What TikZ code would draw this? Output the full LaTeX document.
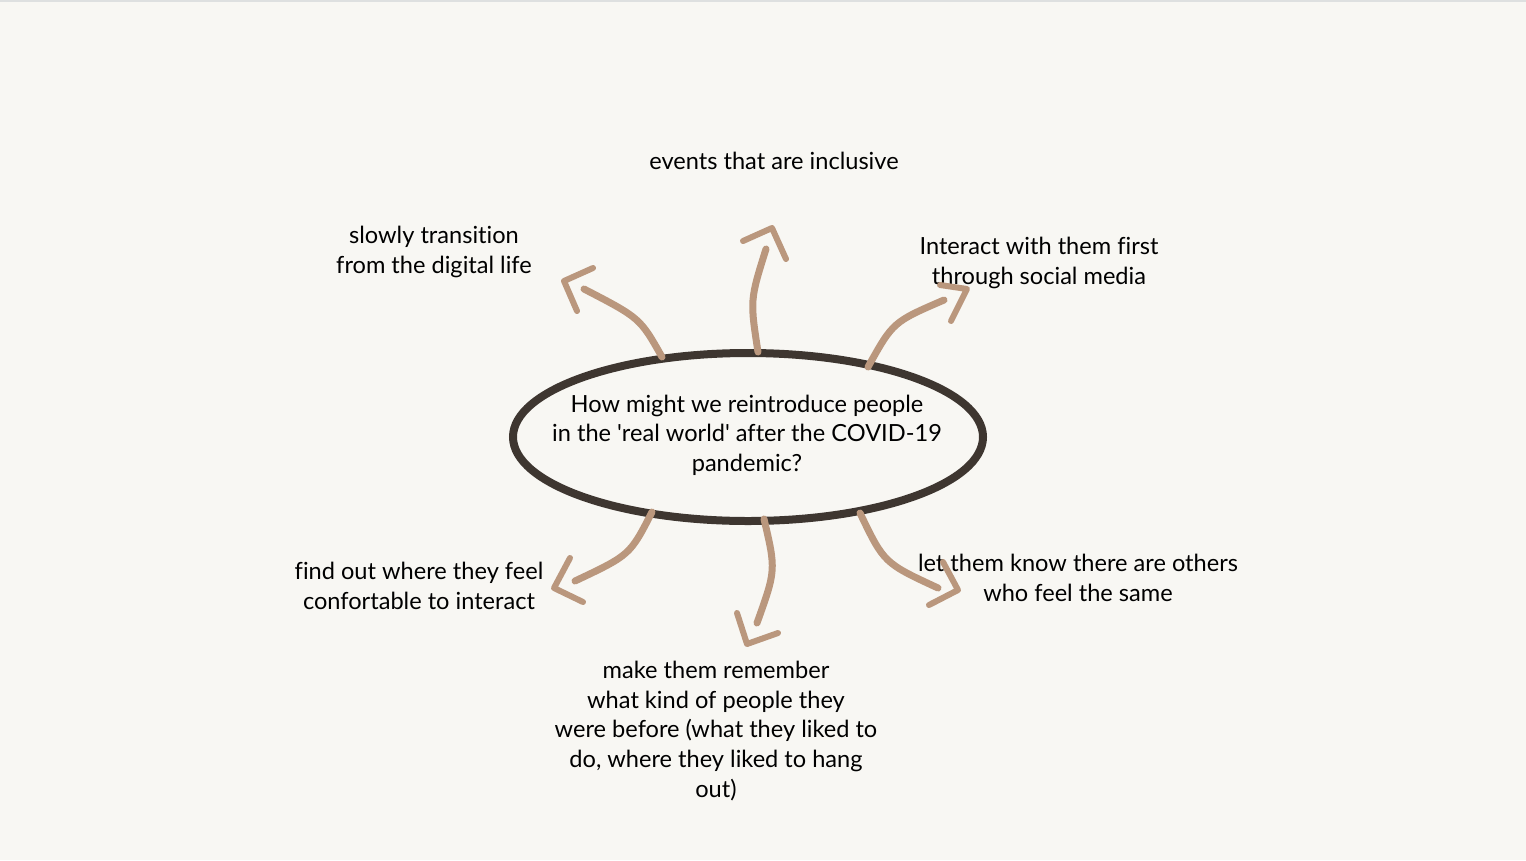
\documentclass[tikz,border=0pt]{standalone}
\usepackage{fontspec}
\newfontfamily\lato{Lato}[Ligatures=NoCommon]
\usetikzlibrary{shapes.geometric}
\definecolor{bg}{RGB}{248,247,243}
\definecolor{topline}{RGB}{222,224,224}
\definecolor{ink}{RGB}{62,54,48}
\definecolor{tan}{RGB}{186,151,125}
\tikzset{
  lbl/.style={align=center, font=\lato\fontsize{23.6}{29.6}\selectfont, text=black, inner sep=0pt},
  shaft/.style={draw=tan, line width=7pt, line cap=round},
  head/.style={draw=tan, line width=6pt, line cap=round, line join=round},
}
\begin{document}
\begin{tikzpicture}[x=1pt,y=-1pt]
\fill[bg] (0,0) rectangle (1526,860);
\fill[topline] (0,0) rectangle (1526,1.5);
\useasboundingbox (0,0) rectangle (1526,860);

% central question
\node[ellipse, draw=ink, line width=8pt, minimum width=470pt, minimum height=168pt, inner sep=0pt] (q) at (748,437) {};
\node[lbl] (qt) at (747,435) {How might we reintroduce people\\in the 'real world' after the COVID-19\\pandemic?};

% labels
\node[lbl] (t1) at (774,161) {events that are inclusive};
\node[lbl] (t2) at (434,252) {slowly transition\\from the digital life};
\node[lbl] (t3) at (1039,263) {Interact with them first\\through social media};
\node[lbl] (t4) at (419,586) {find out where they feel\\confortable to interact};
\node[lbl] (t5) at (1078,578) {let them know there are others\\who feel the same};
\node[lbl] (t6) at (716,731) {make them remember\\what kind of people they\\were before (what they liked to\\do, where they liked to hang\\out)};

% arrow coordinates
\coordinate (a1s) at (662,357); \coordinate (a1e) at (584,289);
\coordinate (a1t) at (564,281); \coordinate (a1l) at (593,268); \coordinate (a1r) at (577,311);
\coordinate (a2s) at (758,352); \coordinate (a2e) at (766,249);
\coordinate (a2t) at (772,228); \coordinate (a2l) at (743,241); \coordinate (a2r) at (786,259);
\coordinate (a3s) at (868,367); \coordinate (a3e) at (944,300);
\coordinate (a3t) at (967,289); \coordinate (a3l) at (940,285); \coordinate (a3r) at (951,321);
\coordinate (a4s) at (652,512); \coordinate (a4e) at (575,581);
\coordinate (a4t) at (554,588); \coordinate (a4l) at (570,558); \coordinate (a4r) at (583,602);
\coordinate (a5s) at (764,519); \coordinate (a5e) at (757,623);
\coordinate (a5t) at (747,644); \coordinate (a5l) at (737,613); \coordinate (a5r) at (778,633);
\coordinate (a6s) at (860,513); \coordinate (a6e) at (938,588);
\coordinate (a6t) at (958,590); \coordinate (a6l) at (943,562); \coordinate (a6r) at (929,605);

% shafts
\draw[shaft] (a1s) .. controls (640,318) .. (a1e);
\draw[shaft] (a2s) .. controls (750,300) .. (a2e);
\draw[shaft] (a3s) .. controls (893,322) .. (a3e);
\draw[shaft] (a4s) .. controls (630,555) .. (a4e);
\draw[shaft] (a5s) .. controls (776,570) .. (a5e);
\draw[shaft] (a6s) .. controls (884,563) .. (a6e);
% heads
\draw[head] (a1l) -- (a1t) -- (a1r);
\draw[head] (a2l) -- (a2t) -- (a2r);
\draw[head] (a3l) -- (a3t) -- (a3r);
\draw[head] (a4l) -- (a4t) -- (a4r);
\draw[head] (a5l) -- (a5t) -- (a5r);
\draw[head] (a6l) -- (a6t) -- (a6r);
\end{tikzpicture}
\end{document}
